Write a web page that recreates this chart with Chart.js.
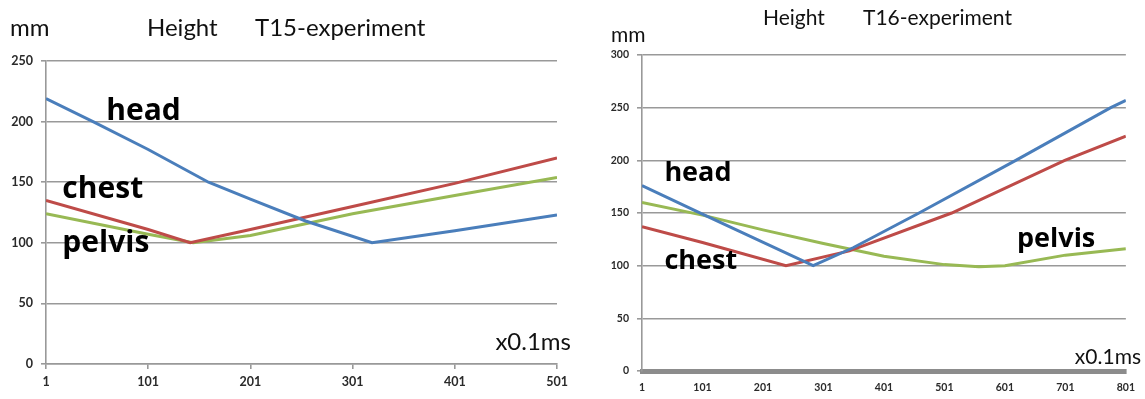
<!DOCTYPE html>
<html>
<head>
<meta charset="utf-8">
<script src="https://cdn.jsdelivr.net/npm/chart.js@4.4.1/dist/chart.umd.min.js"></script>
<style>
  html, body { margin: 0; padding: 0; background: #fff; }
  body { width: 1145px; height: 399px; position: relative; overflow: hidden; font-family: Lato, "Open Sans", sans-serif; }
  .box { position: absolute; top: 0; height: 399px; }
  .txt { position: absolute; white-space: nowrap; color: #111; line-height: 1; }
  .t15 { font-size: 24px; }
  .t16 { font-size: 21px; }
</style>
</head>
<body>
<div class="box" style="left:0;width:580px;"><canvas id="c15" width="580" height="399"></canvas></div>
<div class="box" style="left:580px;width:565px;"><canvas id="c16" width="565" height="399"></canvas></div>

<div class="txt t15" style="left:10px;top:15px;">mm</div>
<div class="txt t15" style="left:147px;top:15px;">Height</div>
<div class="txt t15" style="left:255px;top:15px;">T15-experiment</div>
<div class="txt t15" style="right:574px;top:329px;">x0.1ms</div>

<div class="txt t16" style="left:611px;top:23px;">mm</div>
<div class="txt t16" style="left:763px;top:6px;">Height</div>
<div class="txt t16" style="left:863px;top:6px;">T16-experiment</div>
<div class="txt t16" style="right:4px;top:345px;">x0.1ms</div>

<script>
// ---- T15 experiment ----
const xTicks15 = [1, 101, 201, 301, 401, 501];
const yTicks15 = [0, 50, 100, 150, 200, 250];
const head15X   = [1, 47, 101, 160, 201, 255, 320, 401, 501];
const head15Y   = [219, 200, 177, 150, 136, 118, 100, 110, 123];
const chest15X  = [1, 101, 142, 201, 301, 401, 501];
const chest15Y  = [135, 111, 100, 111, 130, 149, 170];
const pelvis15X = [1, 101, 145, 201, 301, 401, 501];
const pelvis15Y = [124, 107, 100, 106, 124, 139, 154];

// ---- T16 experiment ----
const xTicks16 = [1, 101, 201, 301, 401, 501, 601, 701, 801];
const yTicks16 = [0, 50, 100, 150, 200, 250, 300];
const head16X   = [1, 101, 284, 350, 459, 619, 776, 801];
const head16Y   = [176, 149, 100, 117, 150, 200, 250, 257];
const chest16X  = [1, 101, 239, 344, 513, 700, 801];
const chest16Y  = [137, 122, 100, 114, 150, 200, 223];
const pelvis16X = [1, 101, 201, 301, 401, 501, 558, 601, 701, 801];
const pelvis16Y = [160, 148, 134, 121, 109, 101, 99, 100, 110, 116];

const seriesNames = ['head', 'chest', 'pelvis'];
const colors = ['#4a7ebb', '#be4b48', '#98b954'];

function pts(xs, ys) { return xs.map((x, i) => ({ x: x, y: ys[i] })); }

const labelPlugin = {
  id: 'seriesLabels',
  afterDatasetsDraw(chart, args, opts) {
    const ctx = chart.ctx, xs = chart.scales.x, ys = chart.scales.y;
    ctx.save();
    ctx.font = 'bold ' + opts.size + 'px "Open Sans", Lato, sans-serif';
    ctx.fillStyle = '#000';
    ctx.textBaseline = 'alphabetic';
    ctx.textAlign = 'left';
    (opts.items || []).forEach(it => {
      ctx.fillText(it.text, xs.getPixelForValue(it.x), ys.getPixelForValue(it.y));
    });
    ctx.restore();
  }
};

function makeChart(id, cfg) {
  const datasets = cfg.series.map((s, i) => ({
    label: seriesNames[i],
    data: pts(s[0], s[1]),
    borderColor: colors[i],
    backgroundColor: colors[i],
    borderWidth: 3,
    pointRadius: 0,
    tension: 0,
    fill: false
  }));
  const tickFont = { family: 'Lato, "Open Sans", sans-serif', size: cfg.tickSize, weight: 'bold' };
  return new Chart(document.getElementById(id), {
    type: 'line',
    data: { datasets: datasets },
    plugins: [labelPlugin],
    options: {
      responsive: false,
      animation: false,
      devicePixelRatio: 1,
      layout: { padding: cfg.padding },
      plugins: {
        legend: { display: false },
        tooltip: { enabled: false },
        seriesLabels: { items: cfg.labels, size: cfg.labelSize }
      },
      scales: {
        x: {
          type: 'linear',
          min: cfg.xTicks[0],
          max: cfg.xTicks[cfg.xTicks.length - 1],
          afterBuildTicks: sc => { sc.ticks = cfg.xTicks.map(v => ({ value: v })); },
          afterFit: sc => { sc.height = cfg.xAxisH; },
          grid: {
            drawOnChartArea: false,
            drawTicks: cfg.xTickMarks,
            tickLength: 5,
            color: '#999',
            lineWidth: 1.6
          },
          border: { display: true, color: cfg.xBorderColor, width: cfg.xBorderW },
          ticks: {
            autoSkip: false,
            maxRotation: 0,
            padding: cfg.xTickPad,
            color: '#2a2a2a',
            font: tickFont
          }
        },
        y: {
          type: 'linear',
          min: cfg.yTicks[0],
          max: cfg.yTicks[cfg.yTicks.length - 1],
          afterBuildTicks: sc => { sc.ticks = cfg.yTicks.map(v => ({ value: v })); },
          afterFit: sc => { sc.width = cfg.yAxisW; },
          grid: {
            drawTicks: true,
            tickLength: 5,
            color: '#999',
            lineWidth: 1.6
          },
          border: { display: true, color: '#999', width: 1.6 },
          ticks: {
            padding: 8,
            color: '#2a2a2a',
            font: tickFont
          }
        }
      }
    }
  });
}

makeChart('c15', {
  series: [[head15X, head15Y], [chest15X, chest15Y], [pelvis15X, pelvis15Y]],
  xTicks: xTicks15, yTicks: yTicks15,
  padding: { left: 10, right: 23, top: 61, bottom: 8 },
  yAxisW: 36, xAxisH: 27,
  tickSize: 12.5, labelSize: 30,
  xTickMarks: true, xTickPad: 5, xBorderColor: '#999', xBorderW: 1.6,
  labels: [
    { text: 'head', x: 60, y: 201 },
    { text: 'chest', x: 17, y: 137 },
    { text: 'pelvis', x: 17, y: 92 }
  ]
});

makeChart('c16', {
  series: [[head16X, head16Y], [chest16X, chest16Y], [pelvis16X, pelvis16Y]],
  xTicks: xTicks16, yTicks: yTicks16,
  padding: { left: 10, right: 19, top: 55, bottom: 8 },
  yAxisW: 52, xAxisH: 20,
  tickSize: 10.5, labelSize: 27,
  xTickMarks: false, xTickPad: 10, xBorderColor: '#8c8c8c', xBorderW: 5,
  labels: [
    { text: 'head', x: 38, y: 180 },
    { text: 'chest', x: 38, y: 97 },
    { text: 'pelvis', x: 621, y: 118 }
  ]
});
</script>
</body>
</html>
